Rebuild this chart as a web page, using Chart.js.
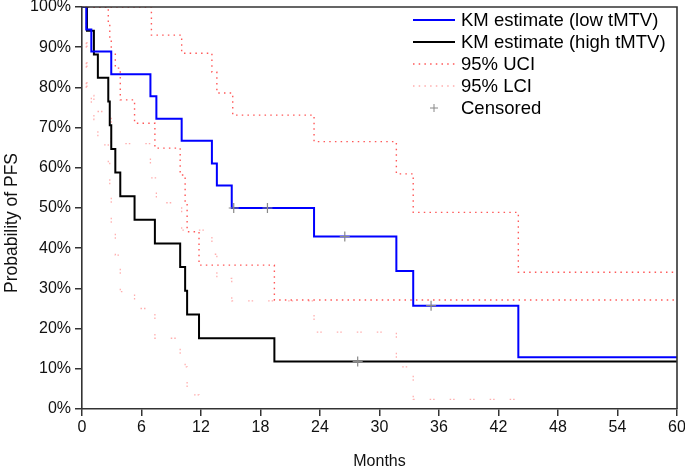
<!DOCTYPE html>
<html>
<head>
<meta charset="utf-8">
<script src="https://cdn.jsdelivr.net/npm/chart.js@4"></script>
<style>
html, body { margin: 0; padding: 0; background: #fff; }
#wrap { width: 685px; height: 466px; }
</style>
</head>
<body>
<div id="wrap"><canvas id="km" width="685" height="466"></canvas></div>
<script>
// low tMTV group (months, % progression free)
const lowTimes = [0, 0.43, 0.94, 2.95, 6.9, 7.5, 10.05, 13.1, 13.6, 15.1, 23.4, 31.7, 33.4, 44.0, 60];
const lowKM    = [100, 94.4, 88.9, 83.3, 77.8, 72.2, 66.7, 61.1, 55.6, 50.0, 42.9, 34.3, 25.7, 12.9, 12.9];
const lowLCI   = [100, 80, 74, 66, 57.5, 51.3, 44.5, 38.5, 32.5, 26.9, 19.1, 10.5, 2.4, 0, 0];
const lowUciTimes = [0, 7.0, 10.05, 13.1, 13.6, 15.2, 23.4, 31.7, 33.4, 44.0, 60];
const lowUCI      = [100, 93.0, 88.5, 83.8, 78.6, 73.1, 66.5, 58.5, 48.9, 34.0, 34.0];
const lowCensTimes = [15.3, 18.7, 26.5, 35.2];
const lowCensVals  = [50.0, 50.0, 42.9, 25.7];

// high tMTV group
const highTimes = [0, 0.5, 1.2, 1.6, 2.65, 2.8, 2.95, 3.36, 3.86, 5.3, 7.35, 9.9, 10.4, 10.6, 11.8, 19.4, 60];
const highKM    = [100, 94.1, 88.2, 82.4, 76.5, 70.6, 64.7, 58.8, 52.9, 47.1, 41.2, 35.3, 29.4, 23.5, 17.6, 11.8, 11.8];
const highLCI   = [100, 78, 72, 65.7, 61.1, 53.2, 46.2, 38.3, 29.2, 25.0, 17.6, 13.7, 10.5, 3.5, 0, 0, 0];
const highUCI   = [100, 100, 100, 100, 96, 92, 88.5, 84.8, 76.9, 71.1, 64.9, 58.2, 51.2, 44.1, 35.8, 27.1, 27.1];
const highCensTimes = [27.8];
const highCensVals  = [11.8];

const xTicks = [0, 6, 12, 18, 24, 30, 36, 42, 48, 54, 60];
const legendLabels = ['KM estimate (low tMTV)', 'KM estimate (high tMTV)', '95% UCI', '95% LCI', 'Censored'];

function pts(times, vals) { return times.map((t, i) => ({ x: t, y: vals[i] })); }

const FONT = 'Liberation Sans, Arial, sans-serif';
const uciStyle = { borderColor: 'rgba(255,70,70,0.9)', borderWidth: 1.4, borderDash: [1.5, 4.2] };
const lciStyle = { borderColor: 'rgba(255,160,160,0.85)', borderWidth: 1.3, borderDash: [1.5, 2, 1.5, 15], clip: { left: 2, top: 2, right: 2, bottom: -1.5 } };

const datasets = [
    { label: legendLabels[4], type: 'scatter', data: pts(lowCensTimes, lowCensVals), pointStyle: 'cross', pointRadius: 5, borderColor: '#888', borderWidth: 1.2 },
    { label: '', type: 'scatter', data: pts(highCensTimes, highCensVals), pointStyle: 'cross', pointRadius: 5, borderColor: '#888', borderWidth: 1.2 },
    { label: legendLabels[0], data: pts(lowTimes, lowKM), borderColor: '#0000ff', borderWidth: 2 },
    { label: legendLabels[1], data: pts(highTimes, highKM), borderColor: '#000000', borderWidth: 2 },
    Object.assign({ label: legendLabels[2], data: pts(lowUciTimes, lowUCI) }, uciStyle),
    Object.assign({ label: '', data: pts(highTimes, highUCI) }, uciStyle),
    Object.assign({ label: legendLabels[3], data: pts(lowTimes, lowLCI) }, lciStyle),
    Object.assign({ label: '', data: pts(highTimes, highLCI) }, lciStyle)
];
datasets.forEach((d) => {
    if (!d.type) { d.stepped = 'before'; d.pointRadius = 0; d.fill = false; }
});

// frame on top/right, y title and legend drawn inside the plot
const framePlugin = {
    id: 'frame',
    afterDraw(chart) {
        const c = chart.ctx, a = chart.chartArea;
        c.save();
        c.strokeStyle = '#333';
        c.lineWidth = 1.6;
        c.beginPath();
        c.moveTo(a.left, a.top);
        c.lineTo(a.right, a.top);
        c.lineTo(a.right, a.bottom);
        c.stroke();

        // y axis title
        c.save();
        c.translate(12, 223);
        c.rotate(-Math.PI / 2);
        c.font = '17.5px ' + FONT;
        c.fillStyle = '#111';
        c.textAlign = 'center';
        c.textBaseline = 'middle';
        c.fillText('Probability of PFS', 0, 0);
        c.restore();

        const x0 = 413, x1 = 455;
        c.font = '18.5px ' + FONT;
        c.textBaseline = 'middle';
        c.fillStyle = '#000';
        legendLabels.forEach((lab, i) => {
            const y = a.top + 13 + i * 22;
            const ds = chart.data.datasets.find((d) => d.label === lab);
            if (ds.type === 'scatter') {
                c.strokeStyle = ds.borderColor;
                c.lineWidth = 1;
                c.setLineDash([]);
                c.beginPath();
                c.moveTo(434 - 4, y); c.lineTo(434 + 4, y);
                c.moveTo(434, y - 4); c.lineTo(434, y + 4);
                c.stroke();
            } else {
                c.strokeStyle = ds.borderColor;
                c.lineWidth = ds.borderWidth;
                c.setLineDash(ds.borderDash && ds.borderDash.length ? [1.5, 4.2] : []);
                c.beginPath();
                c.moveTo(x0, y); c.lineTo(x1, y);
                c.stroke();
            }
            c.setLineDash([]);
            c.fillText(lab, 461, y + 1);
        });
        c.restore();
    }
};

new Chart(document.getElementById('km'), {
    type: 'line',
    data: { datasets: datasets },
    options: {
        responsive: false,
        animation: false,
        devicePixelRatio: 1,
        layout: { padding: { top: 7, right: 8, left: 0, bottom: 0 } },
        plugins: { legend: { display: false }, tooltip: { enabled: false } },
        scales: {
            x: {
                type: 'linear', min: 0, max: 60,
                afterBuildTicks: (s) => { s.ticks = xTicks.map((v) => ({ value: v })); },
                afterFit: (s) => { s.height = 57; s.paddingLeft = 0; s.paddingRight = 0; },
                grid: { drawOnChartArea: false, drawTicks: true, tickLength: 7, color: '#333', lineWidth: 1.5 },
                border: { display: true, color: '#333', width: 1.6 },
                ticks: { color: '#111', font: { family: FONT, size: 16 }, padding: 2, maxRotation: 0, autoSkip: false },
                title: { display: true, text: 'Months', color: '#111', font: { family: FONT, size: 16, lineHeight: 1 }, padding: { top: 0, bottom: -4 } }
            },
            y: {
                min: 0, max: 100,
                afterFit: (s) => { s.width = 82; s.paddingTop = 0; s.paddingBottom = 0; },
                grid: { drawOnChartArea: false, drawTicks: true, tickLength: 7, color: '#333', lineWidth: 1.5 },
                border: { display: true, color: '#333', width: 1.6 },
                ticks: { stepSize: 10, color: '#111', font: { family: FONT, size: 16 }, padding: 4, callback: (v) => v + '%' },
                title: { display: false }
            }
        }
    },
    plugins: [framePlugin]
});
</script>
</body>
</html>
